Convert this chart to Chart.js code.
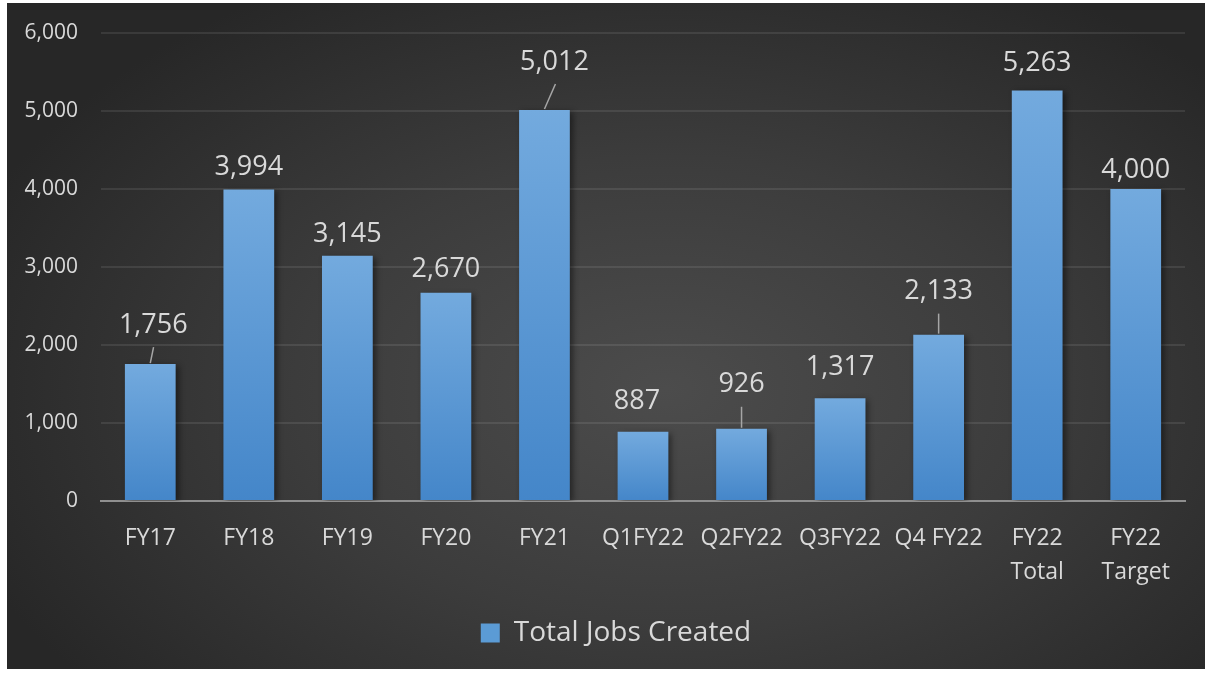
<!DOCTYPE html>
<html lang="en">
<head>
    <meta charset="UTF-8">
    <title>Total Jobs Created</title>
    <script src="https://cdn.jsdelivr.net/npm/chart.js"></script>
    <style>
        html, body {
            margin: 0;
            padding: 0;
            background: #ffffff;
        }
        .panel {
            position: absolute;
            left: 7px;
            top: 3px;
            width: 1198px;
            height: 666px;
            background: radial-gradient(ellipse 62% 70% at 55% 58%, #4c4c4c 0%, #3c3c3c 50%, #272727 100%);
        }
    </style>
</head>
<body>
    <div class="panel">
        <canvas id="jobsChart"></canvas>
    </div>

    <script>
        const categories = ['FY17', 'FY18', 'FY19', 'FY20', 'FY21', 'Q1FY22', 'Q2FY22', 'Q3FY22', 'Q4 FY22', ['FY22', 'Total'], ['FY22', 'Target']];
        const jobsCreated = [1756, 3994, 3145, 2670, 5012, 887, 926, 1317, 2133, 5263, 4000];
        const yTicks = [0, 1000, 2000, 3000, 4000, 5000, 6000];

        // how far each value label sits above its bar, plus a sideways nudge
        const labelLift = [39, 22, 21, 23, 48, 31, 44, 31, 43, 27, 19];
        const labelShift = [3, 0, 0, 0, 10, -6, 0, 0, 0, 0, 0];
        const leaderLines = [true, false, false, false, true, false, true, false, true, false, false];

        const fmt = v => v.toLocaleString('en-US');
        const textColor = '#d9d9d9';

        function barFill(c) {
            const y = c.chart.scales.y;
            if (!y || c.raw == null) return '#5b9bd5';
            const top = y.getPixelForValue(c.raw);
            const bottom = y.getPixelForValue(0);
            const g = c.chart.ctx.createLinearGradient(0, top, 0, bottom);
            g.addColorStop(0, '#73aade');
            g.addColorStop(1, '#4486c9');
            return g;
        }

        const barShadow = {
            id: 'barShadow',
            beforeDatasetDraw(chart) {
                const ctx = chart.ctx;
                ctx.save();
                ctx.shadowColor = 'rgba(0,0,0,0.45)';
                ctx.shadowBlur = 6;
                ctx.shadowOffsetX = 3;
                ctx.shadowOffsetY = 2;
            },
            afterDatasetDraw(chart) {
                chart.ctx.restore();
            }
        };

        // legend sits a little right of the canvas centre
        const legendNudge = {
            id: 'legendNudge',
            afterLayout(chart) {
                chart.legend.left += 20;
                chart.legend.right += 20;
            }
        };

        const valueLabels = {
            id: 'valueLabels',
            afterDatasetsDraw(chart) {
                const ctx = chart.ctx;
                const meta = chart.getDatasetMeta(0);
                ctx.save();
                ctx.font = '27px "Open Sans"';
                ctx.fillStyle = textColor;
                ctx.textAlign = 'center';
                ctx.textBaseline = 'middle';
                meta.data.forEach((bar, i) => {
                    const lx = bar.x + labelShift[i];
                    const ly = bar.y - labelLift[i];
                    ctx.fillText(fmt(jobsCreated[i]), lx, ly);
                    if (leaderLines[i]) {
                        ctx.strokeStyle = '#a6a6a6';
                        ctx.lineWidth = 1.5;
                        ctx.beginPath();
                        ctx.moveTo(bar.x, bar.y - 1);
                        ctx.lineTo(bar.x + labelShift[i] * 1.1, ly + 22);
                        ctx.stroke();
                    }
                });
                ctx.restore();
            }
        };

        new Chart(document.getElementById('jobsChart'), {
            type: 'bar',
            data: {
                labels: categories,
                datasets: [{
                    label: 'Total Jobs Created',
                    data: jobsCreated,
                    backgroundColor: barFill,
                    categoryPercentage: 1,
                    barPercentage: 0.515
                }]
            },
            options: {
                responsive: true,
                maintainAspectRatio: false,
                animation: false,
                layout: {
                    padding: { top: 30, right: 20, left: 0, bottom: 12 }
                },
                scales: {
                    x: {
                        grid: { display: false, drawTicks: false },
                        border: { color: '#8f8f8f', width: 2 },
                        ticks: {
                            color: textColor,
                            font: { family: 'Open Sans', size: 23, lineHeight: 1.45 },
                            padding: 21,
                            maxRotation: 0,
                            autoSkip: false
                        },
                        afterFit(scale) { scale.height = 108; }
                    },
                    y: {
                        min: 0,
                        max: 6000,
                        afterBuildTicks(scale) {
                            scale.ticks = yTicks.map(v => ({ value: v }));
                        },
                        grid: { color: 'rgba(255,255,255,0.09)', lineWidth: 2, drawTicks: false },
                        border: { display: false },
                        ticks: {
                            color: textColor,
                            font: { family: 'Open Sans', size: 21 },
                            padding: 23,
                            callback: v => fmt(v)
                        },
                        afterFit(scale) {
                            scale.width = 94;
                            scale.paddingTop = 0;
                            scale.paddingBottom = 0;
                        }
                    }
                },
                plugins: {
                    legend: {
                        position: 'bottom',
                        labels: {
                            color: textColor,
                            font: { family: 'Open Sans', size: 28 },
                            boxWidth: 19,
                            boxHeight: 19,
                            padding: 10,
                            generateLabels(chart) {
                                return [{
                                    text: 'Total Jobs Created',
                                    fillStyle: '#5b9bd5',
                                    strokeStyle: '#5b9bd5',
                                    lineWidth: 0,
                                    fontColor: textColor,
                                    datasetIndex: 0
                                }];
                            }
                        }
                    },
                    tooltip: { enabled: false }
                }
            },
            plugins: [barShadow, legendNudge, valueLabels]
        });
    </script>
</body>
</html>
